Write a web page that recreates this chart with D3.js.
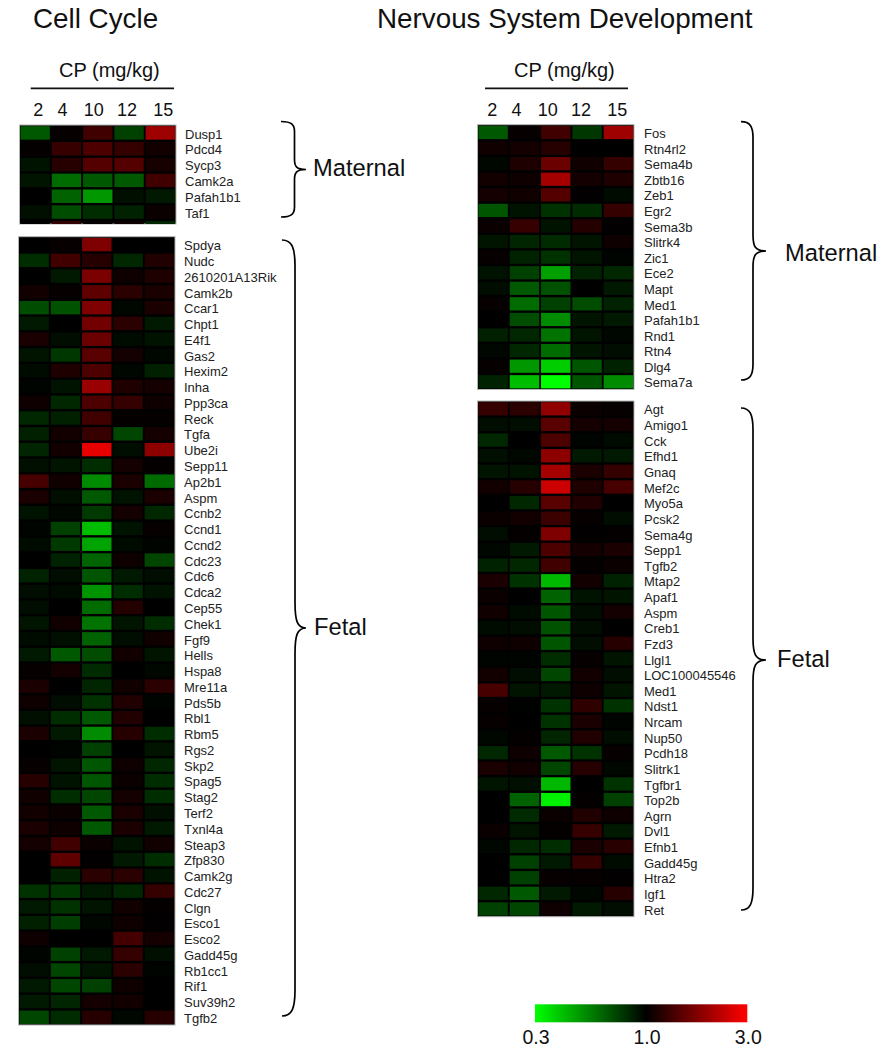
<!DOCTYPE html>
<html>
<head>
<meta charset="utf-8">
<script src="https://d3js.org/d3.v7.min.js"></script>
<style>
    html, body { margin: 0; background: #fff; }
    svg { display: block; }
    text { font-family: "Liberation Sans", Arial, sans-serif; fill: #111; }
    .tick text { font-family: "Liberation Sans", Arial, sans-serif; }
    .rowlabels text { font-size: 13px; fill: #222; }
    .collabels text { font-size: 18px; }
    .legendaxis text { font-size: 19.5px; }
</style>
</head>
<body>
<svg width="893" height="1050"></svg>
<script>

var doses = ["2", "4", "10", "12", "15"];

// fold change, one row per gene, columns follow doses
var ccMaternalGenes = ["Dusp1", "Pdcd4", "Sycp3", "Camk2a", "Pafah1b1", "Taf1", ""];
var ccMaternal = [
    [.66, 1.03, 1.32, .74, 1.98],
    [1.02, 1.27, 1.39, 1.25, 1.08],
    [.92, 1.18, 1.44, 1.44, 1.1],
    [.91, .6, .66, .66, 1.32],
    [1, .63, .49, .93, .89],
    [.93, .7, .81, .85, 1.05],
    [1, 1.25, 1.02, 1.06, .83]
];

var ccFetalGenes = ["Spdya", "Nudc", "2610201A13Rik", "Camk2b", "Ccar1", "Chpt1", "E4f1", "Gas2", "Hexim2", "Inha",
    "Ppp3ca", "Reck", "Tgfa", "Ube2i", "Sepp11", "Ap2b1", "Aspm", "Ccnb2", "Ccnd1", "Ccnd2",
    "Cdc23", "Cdc6", "Cdca2", "Cep55", "Chek1", "Fgf9", "Hells", "Hspa8", "Mre11a", "Pds5b",
    "Rbl1", "Rbm5", "Rgs2", "Skp2", "Spag5", "Stag2", "Terf2", "Txnl4a", "Steap3", "Zfp830",
    "Camk2g", "Cdc27", "Clgn", "Esco1", "Esco2", "Gadd45g", "Rb1cc1", "Rif1", "Suv39h2", "Tgfb2"];
var ccFetal = [
    [1, 1.03, 1.73, 1, 1],
    [.81, 1.32, 1.18, .83, 1.15],
    [1, .89, 1.7, 1.06, 1.14],
    [1.08, 1.03, 1.5, 1.2, 1.12],
    [.7, .68, 1.73, .97, 1.12],
    [.89, 1, 1.64, 1.2, .89],
    [1.12, .94, 1.58, .95, .92],
    [.91, .77, 1.47, 1.09, .97],
    [.95, 1.14, 1.39, .97, .86],
    [.98, .92, 1.93, 1.14, 1.09],
    [1.06, .83, 1.39, 1.25, 1.06],
    [.83, .86, 1.32, 1.02, 1.02],
    [.86, 1.08, 1.27, .72, 1.09],
    [.84, 1.08, 2.69, .94, 1.83],
    [.93, .91, .81, 1.09, 1.02],
    [1.36, 1.07, .52, 1.12, .6],
    [1.12, .93, .66, .92, 1.12],
    [.92, .97, .76, 1.09, .83],
    [.98, .74, .41, .92, 1.03],
    [.95, .76, .46, .95, .98],
    [1, .85, .62, 1.06, .72],
    [.85, .94, .67, .89, .94],
    [.94, .95, .5, .81, .92],
    [.94, 1, .6, 1.17, 1],
    [.91, 1.07, .58, .91, .81],
    [.95, .93, .63, .94, 1.07],
    [.89, .66, .7, 1.08, .91],
    [1.03, 1.09, .82, 1, .97],
    [1.12, 1, .84, 1.07, 1.2],
    [1.06, .94, .79, 1.15, .98],
    [.93, .81, .66, 1.15, 1],
    [1.12, .89, .52, 1.18, .81],
    [1, .98, .74, 1, .91],
    [1.03, .91, .67, 1.06, .83],
    [1.18, .92, .67, 1.05, .81],
    [1.07, .81, .72, 1.09, .81],
    [1.08, 1.05, .66, 1.12, .93],
    [1.12, 1.06, .66, 1.12, .89],
    [1.09, 1.32, 1.05, .92, 1.07],
    [1, 1.5, 1.01, .89, .81],
    [1, .86, 1.2, 1.2, .92],
    [.79, .77, .89, .83, 1.25],
    [.89, .79, .91, 1.07, 1.02],
    [.86, .75, .97, 1.06, 1.01],
    [1.06, 1, 1, 1.34, 1.09],
    [.98, .74, .89, 1.25, .93],
    [.94, .72, .91, 1.2, .98],
    [.89, .72, .74, 1.06, 1],
    [.89, .84, 1.09, 1.08, 1],
    [.72, .82, 1.18, .97, 1.18]
];

var nsMaternalGenes = ["Fos", "Rtn4rl2", "Sema4b", "Zbtb16", "Zeb1", "Egr2", "Sema3b", "Slitrk4", "Zic1",
    "Ece2", "Mapt", "Med1", "Pafah1b1", "Rnd1", "Rtn4", "Dlg4", "Sema7a"];
var nsMaternal = [
    [.66, 1.03, 1.32, .77, 1.98],
    [1.07, 1.09, 1.18, 1, 1],
    [.97, 1.14, 1.58, 1.07, 1.25],
    [1.08, 1.06, 2.04, 1.09, 1.14],
    [1.09, 1.07, 1.44, 1.01, .95],
    [.67, .92, .79, .82, 1.25],
    [1.05, 1.27, .92, 1.17, 1.01],
    [.91, .84, .82, .91, 1.06],
    [1.03, .85, .79, .91, .98],
    [.92, .74, .47, .85, .83],
    [.94, .66, .68, 1, .89],
    [1.03, .6, .74, .7, .85],
    [1, .7, .52, .91, .89],
    [.86, .83, .58, .91, .97],
    [.97, .83, .6, .91, .94],
    [1.03, .49, .38, .67, .85],
    [.85, .41, .3, .67, .52]
];

var nsFetalGenes = ["Agt", "Amigo1", "Cck", "Efhd1", "Gnaq", "Mef2c", "Myo5a", "Pcsk2", "Sema4g", "Sepp1",
    "Tgfb2", "Mtap2", "Apaf1", "Aspm", "Creb1", "Fzd3", "Llgl1", "LOC100045546", "Med1", "Ndst1",
    "Nrcam", "Nup50", "Pcdh18", "Slitrk1", "Tgfbr1", "Top2b", "Agrn", "Dvl1", "Efnb1", "Gadd45g",
    "Htra2", "Igf1", "Ret"];
var nsFetal = [
    [1.25, 1.2, 1.87, 1.05, 1.03],
    [.94, .94, 1.47, 1.09, 1.09],
    [.83, 1, 1.39, .98, .95],
    [.93, .97, 1.83, .89, .89],
    [.91, .92, 2.04, 1.12, 1.25],
    [1.08, 1.18, 2.41, 1.14, 1.36],
    [1, .83, 1.47, 1.15, 1],
    [1.05, 1.08, 1.29, 1.03, .94],
    [.94, 1.02, 1.73, 1.01, 1.02],
    [.97, .89, 1.39, 1.09, 1.12],
    [.85, .83, 1.32, 1.02, 1.05],
    [1.12, .79, .42, 1.08, .85],
    [1.05, 1, .63, .92, .91],
    [1.07, .95, .67, .94, 1.09],
    [.95, .94, .68, .94, 1],
    [1.06, 1.06, .67, .94, 1.18],
    [.98, .98, .81, 1.03, .91],
    [1.08, .94, .72, 1.08, .94],
    [1.36, .91, .89, 1.06, .91],
    [1.03, .99, .79, 1.22, .79],
    [1.03, 1, .79, 1.12, .98],
    [.97, 1.02, .84, 1.15, .94],
    [.83, 1.06, .66, .79, 1.03],
    [1.12, 1.08, .72, 1.18, .97],
    [.91, .93, .42, 1, .79],
    [1, .63, .32, 1.02, .74],
    [1, .82, 1.05, 1.15, 1.06],
    [1.05, .91, 1.02, 1.27, .89],
    [.97, .83, .81, 1.12, 1.19],
    [1, .74, .89, 1.25, .95],
    [1, .74, 1.03, 1.03, 1.01],
    [.83, .66, .89, .97, 1.18],
    [.74, .72, 1.06, .89, .94]
];

var legendTicks = [0.3, 1, 3];

var svg = d3.select("svg");

var color = d3.scaleLog()
    .domain([0.3, 1, 3])
    .range(["#00ff00", "#000000", "#ff0000"]);

/* one block of the heatmap. rowPitch is given because the left maternal block
   is cut off part way through its last row */
function heatmap(id, genes, values, x0, x1, y0, y1, rowPitch, labelX) {
    var x = d3.scaleBand().domain(doses).range([x0, x1]).paddingInner(0.06).paddingOuter(0.03);
    var y = d3.scaleBand().domain(genes)
        .range([y0, y0 + rowPitch * genes.length])
        .paddingInner(0.15).paddingOuter(0.075);

    svg.append("clipPath").attr("id", id)
        .append("rect")
        .attr("x", x0).attr("y", y0)
        .attr("width", x1 - x0).attr("height", y1 - y0);

    svg.append("rect")
        .attr("x", x0).attr("y", y0)
        .attr("width", x1 - x0).attr("height", y1 - y0)
        .attr("fill", "#000")
        .attr("stroke", "#b4b4b4")
        .attr("stroke-width", 1);

    var g = svg.append("g").attr("clip-path", "url(#" + id + ")");

    var row = g.selectAll("g")
        .data(values)
        .enter().append("g")
        .attr("transform", function(d, i) { return "translate(0," + y(genes[i]) + ")"; });

    row.selectAll("rect")
        .data(function(d) { return d; })
        .enter().append("rect")
        .attr("x", function(d, i) { return x(doses[i]); })
        .attr("width", x.bandwidth())
        .attr("height", y.bandwidth())
        .attr("fill", function(d) { return color(d); });

    var labels = svg.append("g")
        .attr("class", "rowlabels")
        .attr("transform", "translate(" + labelX + ",1.5)")
        .call(d3.axisRight(y).tickSize(0).tickPadding(0));
    labels.select(".domain").remove();
    return x;
}

function brace(xEnd, spine, tip, yTop, yTip, yBot, r) {
    var p = d3.path();
    p.moveTo(xEnd, yTop);
    p.bezierCurveTo(spine - 3, yTop, spine, yTop + r * 0.3, spine, yTop + r);
    p.lineTo(spine, yTip - r);
    p.bezierCurveTo(spine, yTip - r * 0.3, spine + 2, yTip, tip, yTip);
    p.bezierCurveTo(spine + 2, yTip, spine, yTip + r * 0.3, spine, yTip + r);
    p.lineTo(spine, yBot - r);
    p.bezierCurveTo(spine, yBot - r * 0.3, spine - 3, yBot, xEnd, yBot);
    svg.append("path")
        .attr("d", p.toString())
        .attr("fill", "none")
        .attr("stroke", "#000")
        .attr("stroke-width", 1.7);
}

function label(txt, x, y, size) {
    svg.append("text").attr("x", x).attr("y", y).attr("font-size", size).text(txt);
}

/* dose header, the printed numbers do not sit exactly over the columns */
var doseNudge = [-1, -8, -8, -6, -1];
function header(x, lineX0, lineX1, textX, dx) {
    label("CP (mg/kg)", textX, 77, 20);
    svg.append("line")
        .attr("x1", lineX0).attr("x2", lineX1)
        .attr("y1", 88.3).attr("y2", 88.3)
        .attr("stroke", "#111").attr("stroke-width", 1.8);
    var axis = svg.append("g")
        .attr("class", "collabels")
        .attr("transform", "translate(0,115.7)")
        .call(d3.axisTop(x).tickSize(0).tickPadding(0));
    axis.select(".domain").remove();
    axis.selectAll("text").attr("dx", function(d, i) { return doseNudge[i] + dx; });
}

// left column
label("Cell Cycle", 33, 27.7, 27.8);
var xCC = heatmap("ccM", ccMaternalGenes, ccMaternal, 19.5, 176, 125, 224, 15.83, 185);
heatmap("ccF", ccFetalGenes, ccFetal, 18.5, 175, 236.7, 1025, 15.77, 184);
header(xCC, 30.7, 174, 59, 4);
brace(281, 294.5, 306, 121.5, 169.5, 217, 10);
brace(282, 295, 306, 240, 628, 1016, 26);
label("Maternal", 313, 175.7, 23.7);
label("Fetal", 314, 635, 23.7);

// right column
label("Nervous System Development", 377, 27.7, 27.8);
var xNS = heatmap("nsM", nsMaternalGenes, nsMaternal, 477.5, 634, 124.7, 389.5, 15.58, 644);
heatmap("nsF", nsFetalGenes, nsFetal, 477.5, 634, 401, 916.7, 15.63, 644);
header(xNS, 485, 628, 514, 0);
brace(741, 753, 766, 121.7, 251, 380, 16);
brace(741, 753, 766, 408, 660, 910, 22);
label("Maternal", 785, 261, 23.7);
label("Fetal", 777, 667, 23.7);

// colour key
var legendX = d3.scaleLog().domain([0.3, 3]).range([535, 747.3]);
var grad = svg.append("linearGradient").attr("id", "key");
grad.selectAll("stop")
    .data(legendTicks)
    .enter().append("stop")
    .attr("offset", function(d) { return (legendX(d) - 535) / (747.3 - 535); })
    .attr("stop-color", function(d) { return color(d); });
svg.append("rect")
    .attr("x", 535).attr("y", 1004.3)
    .attr("width", 747.3 - 535).attr("height", 18)
    .attr("fill", "url(#key)");
var key = svg.append("g")
    .attr("class", "legendaxis")
    .attr("transform", "translate(0.5,1022.3)")
    .call(d3.axisBottom(legendX).tickValues(legendTicks).tickFormat(d3.format(".1f")).tickSize(0).tickPadding(7.5));
key.select(".domain").remove();

</script>
</body>
</html>
